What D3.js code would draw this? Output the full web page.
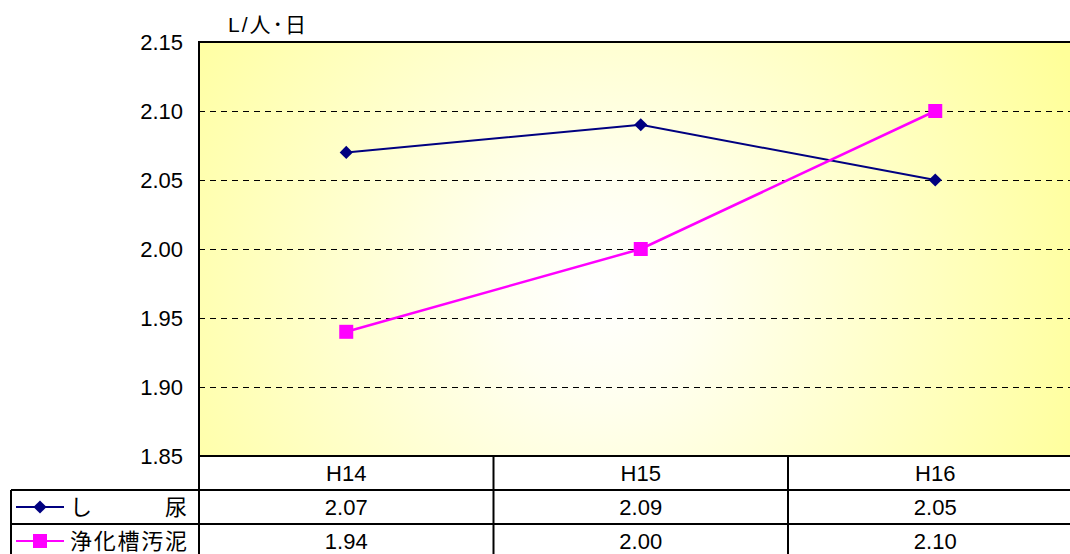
<!DOCTYPE html>
<html>
<head>
<meta charset="utf-8">
<script src="https://cdn.jsdelivr.net/npm/d3@7"></script>
<style>
  body { margin: 0; background: #fff; }
  text { font-family: "Liberation Sans", Arial, sans-serif; }
  .cjk { font-family: "Noto Sans CJK JP", sans-serif; }
</style>
</head>
<body>
<svg id="chart" width="1070" height="554"></svg>
<script>
var categories = ["H14", "H15", "H16"];
var shinyo = [2.07, 2.09, 2.05];
var jokaso = [1.94, 2.00, 2.10];
var seriesNames = ["し　尿", "浄化槽汚泥"];
var yTicks = [1.85, 1.90, 1.95, 2.00, 2.05, 2.10, 2.15];

var svg = d3.select("#chart"),
    MARGINS = { top: 42, left: 199, bottom: 456 },
    plotRight = 1082.5,
    rowH = 34,
    FS = 22;

var xScale = d3.scaleBand().domain(categories).range([MARGINS.left, plotRight]);
var yScale = d3.scaleLinear().domain([1.85, 2.15]).range([MARGINS.bottom, MARGINS.top]);

// background gradient
var defs = svg.append("defs");
var grad = defs.append("radialGradient")
    .attr("id", "bg")
    .attr("gradientUnits", "userSpaceOnUse")
    .attr("cx", 600).attr("cy", 290).attr("r", 520);
grad.append("stop").attr("offset", "0%").attr("stop-color", "#ffffff");
grad.append("stop").attr("offset", "20%").attr("stop-color", "#fffff0");
grad.append("stop").attr("offset", "100%").attr("stop-color", "#ffff99");

svg.append("rect")
    .attr("x", MARGINS.left).attr("y", MARGINS.top)
    .attr("width", plotRight - MARGINS.left)
    .attr("height", MARGINS.bottom - MARGINS.top)
    .attr("fill", "url(#bg)");

// gridlines
svg.selectAll(".grid")
    .data(yTicks.slice(1, -1))
    .enter().append("line")
    .attr("x1", MARGINS.left).attr("x2", plotRight)
    .attr("y1", function(d) { return Math.round(yScale(d)) + 0.5; })
    .attr("y2", function(d) { return Math.round(yScale(d)) + 0.5; })
    .attr("stroke", "#000").attr("stroke-width", 1)
    .attr("stroke-dasharray", "6,5");

svg.append("rect")
    .attr("x", MARGINS.left).attr("y", MARGINS.top)
    .attr("width", plotRight - MARGINS.left)
    .attr("height", MARGINS.bottom - MARGINS.top)
    .attr("fill", "none").attr("stroke", "#000").attr("stroke-width", 2);

// y axis labels
var yAxis = d3.axisLeft(yScale).tickValues(yTicks).tickFormat(d3.format(".2f")).tickSize(0).tickPadding(16);
var gy = svg.append("g")
    .attr("transform", "translate(" + MARGINS.left + ",0)")
    .call(yAxis);
gy.select(".domain").remove();
gy.attr("font-size", FS).attr("font-family", null);
gy.selectAll("text").attr("fill", "#000");

svg.append("text")
    .attr("x", 228).attr("y", 32)
    .attr("font-size", 21)
    .attr("letter-spacing", 2)
    .text("L/")
  .append("tspan")
    .attr("class", "cjk")
    .text("人･日");

// lines
var lineGen = d3.line()
    .x(function(d, i) { return xScale(categories[i]) + xScale.bandwidth() / 2; })
    .y(function(d) { return yScale(d); });

svg.append("path")
    .attr("d", lineGen(shinyo))
    .attr("stroke", "#000080").attr("stroke-width", 2).attr("fill", "none");
svg.append("path")
    .attr("d", lineGen(jokaso))
    .attr("stroke", "#ff00ff").attr("stroke-width", 2.5).attr("fill", "none");

var diamond = d3.symbol().type(d3.symbolDiamond2).size(110);
svg.selectAll(".pt1")
    .data(shinyo)
    .enter().append("path")
    .attr("d", diamond)
    .attr("transform", function(d, i) {
        return "translate(" + (xScale(categories[i]) + xScale.bandwidth() / 2) + "," + yScale(d) + ")";
    })
    .attr("fill", "#000080");

svg.selectAll(".pt2")
    .data(jokaso)
    .enter().append("rect")
    .attr("x", function(d, i) { return xScale(categories[i]) + xScale.bandwidth() / 2 - 7; })
    .attr("y", function(d) { return yScale(d) - 7; })
    .attr("width", 14).attr("height", 14)
    .attr("fill", "#ff00ff");

// data table
var tableTop = MARGINS.bottom;
var rows = [shinyo, jokaso];
var colors = ["#000080", "#ff00ff"];
var tbl = svg.append("g");

// header row
tbl.selectAll(".hdr")
    .data(categories)
    .enter().append("text")
    .attr("x", function(d) { return xScale(d) + xScale.bandwidth() / 2; })
    .attr("y", tableTop + rowH / 2 + 8)
    .attr("text-anchor", "middle")
    .attr("font-size", FS)
    .text(function(d) { return d; });

rows.forEach(function(vals, r) {
    var yTop = tableTop + rowH * (r + 1);
    tbl.selectAll(".v" + r)
        .data(vals)
        .enter().append("text")
        .attr("x", function(d, i) { return xScale(categories[i]) + xScale.bandwidth() / 2; })
        .attr("y", yTop + rowH / 2 + 8)
        .attr("text-anchor", "middle")
        .attr("font-size", FS)
        .text(function(d) { return d.toFixed(2); });

    var cy = yTop + rowH / 2;
    tbl.append("line")
        .attr("x1", 16).attr("x2", 64).attr("y1", cy).attr("y2", cy)
        .attr("stroke", colors[r]).attr("stroke-width", 2);
    if (r === 0) {
        tbl.append("path").attr("d", diamond)
            .attr("transform", "translate(40," + cy + ")")
            .attr("fill", colors[r]);
    } else {
        tbl.append("rect").attr("x", 33).attr("y", cy - 7)
            .attr("width", 14).attr("height", 14).attr("fill", colors[r]);
    }
    tbl.append("text")
        .attr("class", "cjk")
        .attr("x", 70).attr("y", cy + 8)
        .attr("font-size", 22)
        .attr("textLength", 117).attr("lengthAdjust", "spacing")
        .text(seriesNames[r]);
});

// table grid lines
var hLines = [tableTop, tableTop + rowH, tableTop + rowH * 2];
tbl.selectAll(".hl")
    .data(hLines)
    .enter().append("line")
    .attr("x1", function(d, i) { return i === 0 ? MARGINS.left : 11; })
    .attr("x2", plotRight)
    .attr("y1", function(d) { return d; }).attr("y2", function(d) { return d; })
    .attr("stroke", "#000").attr("stroke-width", 2);

var vLines = categories.map(function(c) { return xScale(c); });
tbl.selectAll(".vl")
    .data(vLines)
    .enter().append("line")
    .attr("x1", function(d) { return d; }).attr("x2", function(d) { return d; })
    .attr("y1", tableTop).attr("y2", 554)
    .attr("stroke", "#000").attr("stroke-width", 2);

tbl.append("line")
    .attr("x1", 11).attr("x2", 11)
    .attr("y1", tableTop + rowH).attr("y2", 554)
    .attr("stroke", "#000").attr("stroke-width", 2);
</script>
</body>
</html>
